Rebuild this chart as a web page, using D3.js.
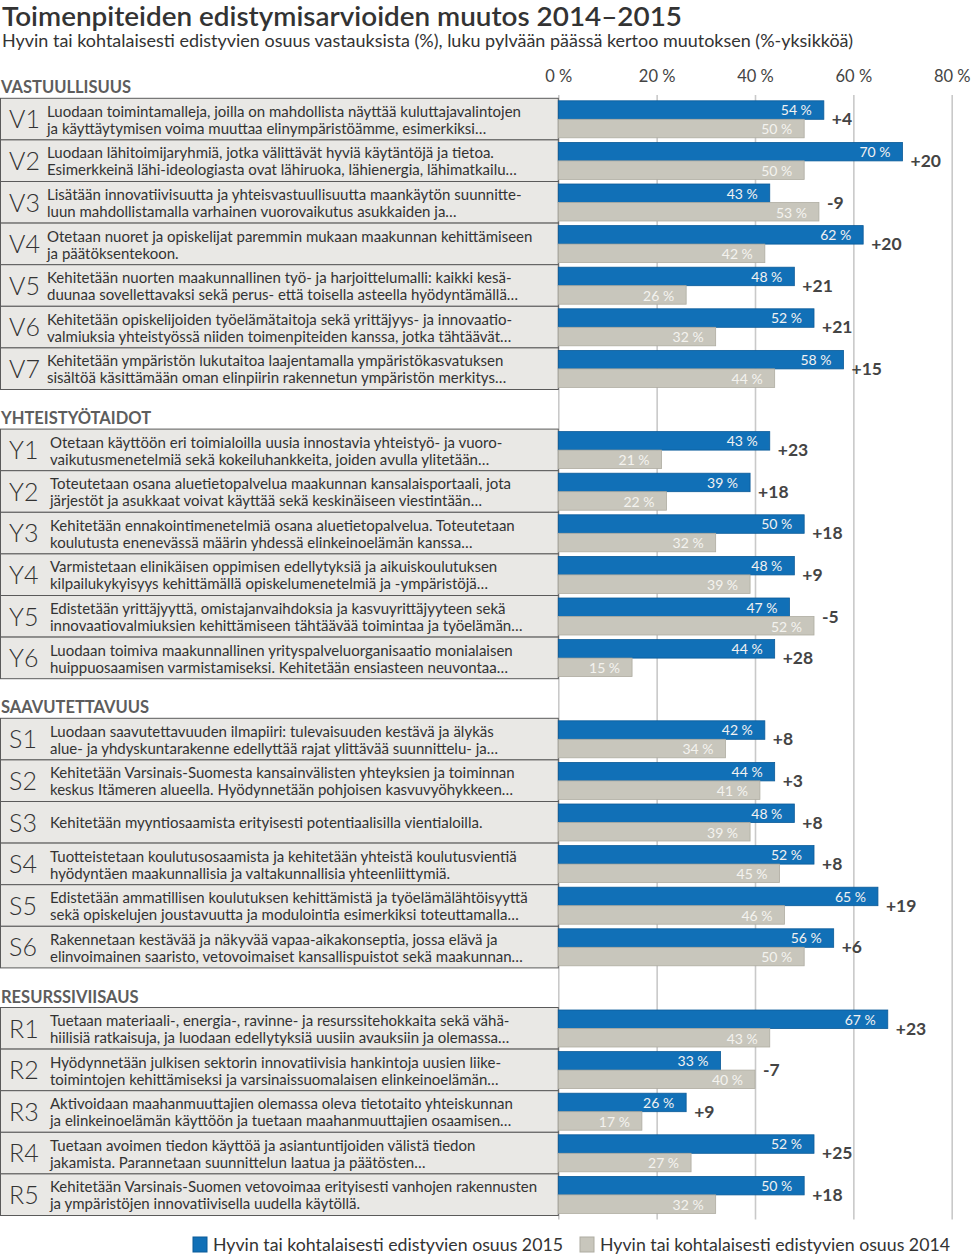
<!DOCTYPE html>
<html>
<head>
<meta charset="utf-8">
<script src="https://cdn.jsdelivr.net/npm/d3@7"></script>
<style>
  body { margin: 0; background: #fff; }
  svg { display: block; font-family: Lato, "Open Sans", sans-serif; }
</style>
</head>
<body>
<svg id="chart" width="972" height="1255"></svg>
<script>
// groups of measures
const groups = ["VASTUULLISUUS", "YHTEISTYÖTAIDOT", "SAAVUTETTAVUUS", "RESURSSIVIISAUS"];
const codes = [
  ["V1", "V2", "V3", "V4", "V5", "V6", "V7"],
  ["Y1", "Y2", "Y3", "Y4", "Y5", "Y6"],
  ["S1", "S2", "S3", "S4", "S5", "S6"],
  ["R1", "R2", "R3", "R4", "R5"]
];
const texts = {
  V1: ["Luodaan toimintamalleja, joilla on mahdollista näyttää kuluttajavalintojen", "ja käyttäytymisen voima muuttaa elinympäristöämme, esimerkiksi…"],
  V2: ["Luodaan lähitoimijaryhmiä, jotka välittävät hyviä käytäntöjä ja tietoa.", "Esimerkkeinä lähi-ideologiasta ovat lähiruoka, lähienergia, lähimatkailu…"],
  V3: ["Lisätään innovatiivisuutta ja yhteisvastuullisuutta maankäytön suunnitte-", "luun mahdollistamalla varhainen vuorovaikutus asukkaiden ja…"],
  V4: ["Otetaan nuoret ja opiskelijat paremmin mukaan maakunnan kehittämiseen", "ja päätöksentekoon."],
  V5: ["Kehitetään nuorten maakunnallinen työ- ja harjoittelumalli: kaikki kesä-", "duunaa sovellettavaksi sekä perus- että toisella asteella hyödyntämällä…"],
  V6: ["Kehitetään opiskelijoiden työelämätaitoja sekä yrittäjyys- ja innovaatio-", "valmiuksia yhteistyössä niiden toimenpiteiden kanssa, jotka tähtäävät…"],
  V7: ["Kehitetään ympäristön lukutaitoa laajentamalla ympäristökasvatuksen", "sisältöä käsittämään oman elinpiirin rakennetun ympäristön merkitys…"],
  Y1: ["Otetaan käyttöön eri toimialoilla uusia innostavia yhteistyö- ja vuoro-", "vaikutusmenetelmiä sekä kokeiluhankkeita, joiden avulla ylitetään…"],
  Y2: ["Toteutetaan osana aluetietopalvelua maakunnan kansalaisportaali, jota", "järjestöt ja asukkaat voivat käyttää sekä keskinäiseen viestintään…"],
  Y3: ["Kehitetään ennakointimenetelmiä osana aluetietopalvelua. Toteutetaan", "koulutusta enenevässä määrin yhdessä elinkeinoelämän kanssa…"],
  Y4: ["Varmistetaan elinikäisen oppimisen edellytyksiä ja aikuiskoulutuksen", "kilpailukykyisyys kehittämällä opiskelumenetelmiä ja -ympäristöjä…"],
  Y5: ["Edistetään yrittäjyyttä, omistajanvaihdoksia ja kasvuyrittäjyyteen sekä", "innovaatiovalmiuksien kehittämiseen tähtäävää toimintaa ja työelämän…"],
  Y6: ["Luodaan toimiva maakunnallinen yrityspalveluorganisaatio monialaisen", "huippuosaamisen varmistamiseksi. Kehitetään ensiasteen neuvontaa…"],
  S1: ["Luodaan saavutettavuuden ilmapiiri: tulevaisuuden kestävä ja älykäs", "alue- ja yhdyskuntarakenne edellyttää rajat ylittävää suunnittelu- ja…"],
  S2: ["Kehitetään Varsinais-Suomesta kansainvälisten yhteyksien ja toiminnan", "keskus Itämeren alueella. Hyödynnetään pohjoisen kasvuvyöhykkeen…"],
  S3: ["Kehitetään myyntiosaamista erityisesti potentiaalisilla vientialoilla."],
  S4: ["Tuotteistetaan koulutusosaamista ja kehitetään yhteistä koulutusvientiä", "hyödyntäen maakunnallisia ja valtakunnallisia yhteenliittymiä."],
  S5: ["Edistetään ammatillisen koulutuksen kehittämistä ja työelämälähtöisyyttä", "sekä opiskelujen joustavuutta ja modulointia esimerkiksi toteuttamalla…"],
  S6: ["Rakennetaan kestävää ja näkyvää vapaa-aikakonseptia, jossa elävä ja", "elinvoimainen saaristo, vetovoimaiset kansallispuistot sekä maakunnan…"],
  R1: ["Tuetaan materiaali-, energia-, ravinne- ja resurssitehokkaita sekä vähä-", "hiilisiä ratkaisuja, ja luodaan edellytyksiä uusiin avauksiin ja olemassa…"],
  R2: ["Hyödynnetään julkisen sektorin innovatiivisia hankintoja uusien liike-", "toimintojen kehittämiseksi ja varsinaissuomalaisen elinkeinoelämän…"],
  R3: ["Aktivoidaan maahanmuuttajien olemassa oleva tietotaito yhteiskunnan", "ja elinkeinoelämän käyttöön ja tuetaan maahanmuuttajien osaamisen…"],
  R4: ["Tuetaan avoimen tiedon käyttöä ja asiantuntijoiden välistä tiedon", "jakamista. Parannetaan suunnittelun laatua ja päätösten…"],
  R5: ["Kehitetään Varsinais-Suomen vetovoimaa erityisesti vanhojen rakennusten", "ja ympäristöjen innovatiivisella uudella käytöllä."]
};
// shares 2015 and 2014 (%), change in %-units as printed
const values2015 = [54, 70, 43, 62, 48, 52, 58, 43, 39, 50, 48, 47, 44, 42, 44, 48, 52, 65, 56, 67, 33, 26, 52, 50];
const values2014 = [50, 50, 53, 42, 26, 32, 44, 21, 22, 32, 39, 52, 15, 34, 41, 39, 45, 46, 50, 43, 40, 17, 27, 32];
const changes = ["+4", "+20", "-9", "+20", "+21", "+21", "+15", "+23", "+18", "+18", "+9", "-5", "+28", "+8", "+3", "+8", "+8", "+19", "+6", "+23", "-7", "+9", "+25", "+18"];
const ticks = [0, 20, 40, 60, 80];
const legendLabels = ["Hyvin tai kohtalaisesti edistyvien osuus 2015", "Hyvin tai kohtalaisesti edistyvien osuus 2014"];

const blue = "#1170b7", blueStroke = "#0b5a98";
const grey = "#c8c6bc", greyStroke = "#aeaca1";
const textCol = "#333";

const svg = d3.select("#chart");

// title + subtitle
svg.append("text").attr("x", 2).attr("y", 26)
  .attr("font-size", 26).attr("font-weight", 600).attr("fill", textCol)
  .attr("textLength", 680).attr("lengthAdjust", "spacingAndGlyphs")
  .text("Toimenpiteiden edistymisarvioiden muutos 2014–2015");
svg.append("text").attr("x", 2).attr("y", 47)
  .attr("font-size", 16.5).attr("fill", textCol)
  .attr("textLength", 851).attr("lengthAdjust", "spacingAndGlyphs")
  .text("Hyvin tai kohtalaisesti edistyvien osuus vastauksista (%), luku pylvään päässä kertoo muutoksen (%-yksikköä)");

// build row list with group offsets
const rowH = 41.6, groupGap = 39.6;
const rows = [];
let y = 98.3, k = 0;
const groupTops = [];
codes.forEach((g, gi) => {
  groupTops.push(y);
  g.forEach(c => {
    rows.push({ code: c, group: gi, top: y, v15: values2015[k], v14: values2014[k], ch: changes[k], lines: texts[c] });
    y += rowH; k++;
  });
  y += groupGap;
});
const bottom = rows[rows.length - 1].top + rowH;

const x = d3.scaleLinear().domain([0, 80]).range([558.3, 951.7]);

// gridlines + tick labels
const axis = svg.append("g").attr("transform", "translate(0,95)")
  .call(d3.axisTop(x).tickValues(ticks).tickSize(-(bottom - 95 + 4)).tickFormat(d => d + " %"));
axis.select(".domain").remove();
axis.selectAll(".tick line").attr("stroke", "#c9c9c9").attr("stroke-width", 1.6);
axis.selectAll(".tick text").attr("y", -13).attr("font-size", 16.5).attr("fill", "#444")
  .attr("font-family", "Lato, sans-serif");

// group headings
svg.selectAll("text.grp").data(groups).join("text").attr("class", "grp")
  .attr("x", 1).attr("y", (d, i) => groupTops[i] - 5)
  .attr("font-size", 16.5).attr("font-weight", 700).attr("fill", "#5d5d5d")
  .text(d => d);

// row boxes
const row = svg.selectAll("g.row").data(rows).join("g").attr("class", "row")
  .attr("transform", d => `translate(0,${d.top})`);
row.append("rect").attr("x", 0.5).attr("y", 0).attr("width", 557.8).attr("height", rowH)
  .attr("fill", "#e9e8e5").attr("stroke", "#5a5a5a").attr("stroke-width", 1);
row.append("text").attr("x", 9).attr("y", 30)
  .attr("font-size", 25).attr("font-weight", 300).attr("fill", textCol)
  .text(d => d.code);
row.each(function (d) {
  const g = d3.select(this);
  const tx = d.group === 0 ? 47 : 50;
  const base = d.lines.length === 1 ? 26 : 18.5;
  d.lines.forEach((ln, i) => {
    const t = g.append("text").attr("x", tx).attr("y", base + i * 17)
      .attr("font-size", 15).attr("fill", textCol).text(ln);
    const w = t.node().getComputedTextLength();
    const maxW = 545 - tx;
    if (w > maxW) t.attr("textLength", maxW).attr("lengthAdjust", "spacingAndGlyphs");
  });
});

// bars
row.append("rect").attr("x", x(0)).attr("y", 2.5)
  .attr("width", d => x(d.v15) - x(0)).attr("height", 18.5)
  .attr("fill", blue).attr("stroke", blueStroke).attr("stroke-width", 0.8);
row.append("rect").attr("x", x(0)).attr("y", 21)
  .attr("width", d => x(d.v14) - x(0)).attr("height", 18.5)
  .attr("fill", grey).attr("stroke", greyStroke).attr("stroke-width", 0.8);

row.append("text").attr("x", d => x(d.v15) - 12).attr("y", 17)
  .attr("text-anchor", "end").attr("font-size", 14).attr("fill", "#f2f2f2")
  .text(d => d.v15 + " %");
row.append("text").attr("x", d => x(d.v14) - 12).attr("y", 36)
  .attr("text-anchor", "end").attr("font-size", 14).attr("fill", "#f4f3ef")
  .text(d => d.v14 + " %");

// change labels
row.append("text").attr("x", d => x(Math.max(d.v15, d.v14)) + 8).attr("y", 27)
  .attr("font-size", 17.5).attr("font-weight", 700).attr("fill", "#444")
  .text(d => d.ch);

// legend
const legend = svg.append("g").attr("transform", "translate(0,1236)");
const legX = [193, 580];
legendLabels.forEach((lab, i) => {
  legend.append("rect").attr("x", legX[i]).attr("y", 1).attr("width", 14).attr("height", 15)
    .attr("fill", i === 0 ? blue : grey).attr("stroke", i === 0 ? blueStroke : greyStroke);
  legend.append("text").attr("x", legX[i] + 20).attr("y", 15)
    .attr("font-size", 17).attr("fill", textCol)
    .attr("textLength", 350).attr("lengthAdjust", "spacingAndGlyphs")
    .text(lab);
});
</script>
</body>
</html>
